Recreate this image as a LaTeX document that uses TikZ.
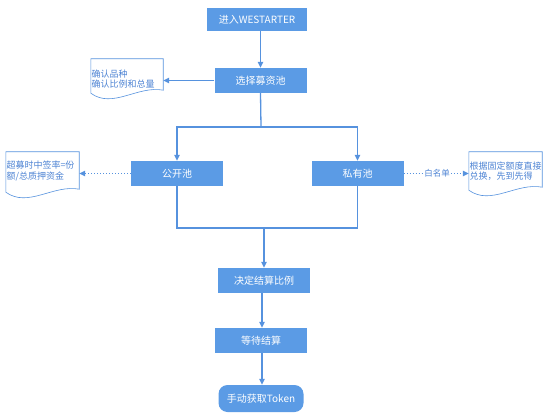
\documentclass[tikz,border=0pt]{standalone}
\usepackage{fontspec}
\setmainfont{Noto Sans CJK SC}
\usetikzlibrary{arrows.meta,calc}
\definecolor{boxblue}{RGB}{91,155,229}
\definecolor{lineblue}{RGB}{86,146,222}
\definecolor{doctxt}{RGB}{78,132,212}
\newcommand\docshape[1]{%
  \draw[docline] let \p1=(#1.south west), \p2=(#1.north east) in
    (\x1,\y1) -- (\x1,\y2) -- (\x2,\y2) -- (\x2,\y1+3pt)
    .. controls (\x1+0.65*\x2-0.65*\x1,\y1+8pt) and (\x1+0.3*\x2-0.3*\x1,\y1-16pt) .. (\x1,\y1) -- cycle;}
\begin{document}
\begin{tikzpicture}[x=1pt,y=-1pt,
  box/.style={fill=boxblue,text=white,minimum width=92pt,minimum height=25pt,inner sep=0pt,font=\fontsize{10}{12}\selectfont},
  line/.style={draw=lineblue,line width=1.3pt},
  arr/.style={line,-{Triangle[length=6pt,width=5.5pt]}},
  dotarr/.style={draw=lineblue,line width=1.2pt,dash pattern=on 1.2pt off 1.8pt,-{Triangle[length=6pt,width=5.5pt]}},
  dotline/.style={draw=lineblue,line width=1.2pt,dash pattern=on 1.2pt off 1.8pt},
  docline/.style={draw=lineblue,line width=0.6pt,fill=white},
  frame/.style={inner sep=0pt,minimum width=73pt},
  doctext/.style={text=doctxt,inner sep=0.5pt,align=left,anchor=west,font=\fontsize{9}{10.5}\selectfont},
  lbl/.style={text=doctxt,fill=white,inner sep=1pt,font=\fontsize{8.5}{10}\selectfont}
]
\useasboundingbox (0,0) rectangle (548,414);

% main boxes
\node[box,minimum width=100pt,minimum height=23pt] (b1) at (257,19.5) {进入WESTARTER};
\node[box] (b2) at (260.5,80.5) {选择募资池};
\node[box] (pub) at (177,173.5) {公开池};
\node[box] (pri) at (357.5,173.5) {私有池};
\node[box] (dec) at (264,280.5) {决定结算比例};
\node[box] (wait) at (261,340.5) {等待结算};
\node[box,minimum width=85pt,minimum height=27pt,rounded corners=9pt] (tok) at (261,398.5) {手动获取Token};

% documents
\node[frame,minimum width=72pt,minimum height=34pt] (d1) at (127,76) {};
\docshape{d1}
\node[doctext] (d1t) at ([yshift=-3pt]d1.west) {确认品种\\确认比例和总量};

\node[frame,minimum height=40pt] (d2) at (42.5,172) {};
\docshape{d2}
\node[doctext] (d2t) at ([yshift=1pt]d2.west) {超募时中签率=份\\额/总质押资金};

\node[frame,minimum height=38pt] (d3) at (505.5,171) {};
\docshape{d3}
\node[doctext] (d3t) at ([yshift=0pt]d3.west) {根据固定额度直接\\兑换，先到先得};

% connectors
\draw[arr] (b1.south -| b2) -- (b2);
\draw[arr] (b2.west) -- (b2.west -| d1.east);
\coordinate (s1) at (261,127);
\draw[line] (b2.south) -- (s1);
\draw[arr] (s1) -| (pub.north);
\draw[arr] (s1) -| (pri.north);
\draw[dotarr] (pub.west) -- (pub.west -| d2.east);
\node[lbl] (wl) at (437,173.5) {白名单};
\draw[dotline] (pri.east) -- (wl.west);
\draw[dotarr] (wl.east) -- (wl.east -| d3.west);
\coordinate (m1) at (264,228);
\draw[line] (pub.south) |- (m1);
\draw[line] (pri.south) |- (m1);
\draw[arr] (m1) -- (dec.north);
\draw[arr] (dec.south -| 262,0) -- (wait.north -| 262,0);
\draw[arr] (wait.south -| 262,0) -- (tok.north -| 262,0);
\end{tikzpicture}
\end{document}
